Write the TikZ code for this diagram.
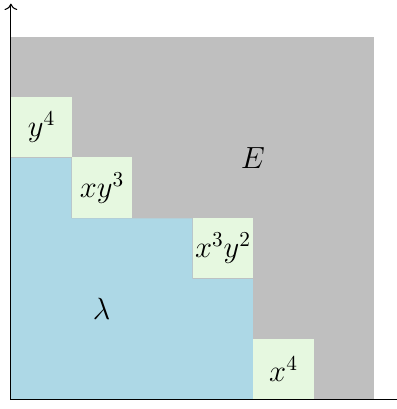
\documentclass[tikz,border=0pt]{standalone}
\usetikzlibrary{arrows.meta}
\definecolor{regE}{RGB}{191,191,191}
\definecolor{regL}{RGB}{173,216,230}
\definecolor{mono}{RGB}{230,248,224}
\tikzset{
  monobox/.style={fill=mono, draw=none, minimum size=1cm, inner sep=0pt, anchor=south west},
  lab/.style={inner sep=0pt, font=\Large},
  axis/.style={-{To[length=3pt,width=6pt]}, line width=0.5pt}
}
\begin{document}
\begin{tikzpicture}
\useasboundingbox (-0.18,-0.15) rectangle (6.365,6.61);
\fill[regE] (0,0) rectangle (6,6);
\fill[regL] (0,0) -- (0,4) -- (1,4) -- (1,3) -- (3,3) -- (3,2) -- (4,2) -- (4,0) -- cycle;
\node[monobox] (m1) at (0,4) {};
\node[monobox] (m2) at (1,3) {};
\node[monobox] (m3) at (3,2) {};
\node[monobox] (m4) at (4,0) {};
\node[lab] at (m1.center) {$y^4$};
\node[lab] at (m2.center) {$xy^3$};
\node[lab] at (m3.center) {$x^3y^2$};
\node[lab] at (m4.center) {$x^4$};
\node[lab] (E) at (4,4) {$E$};
\node[lab] (L) at (1.5,1.5) {$\lambda$};
\coordinate (O) at (0,0);
\coordinate (X) at (6.5,0);
\coordinate (Y) at (0,6.55);
\draw[axis] (O) -- (X);
\draw[axis] (O) -- (Y);
\end{tikzpicture}
\end{document}
